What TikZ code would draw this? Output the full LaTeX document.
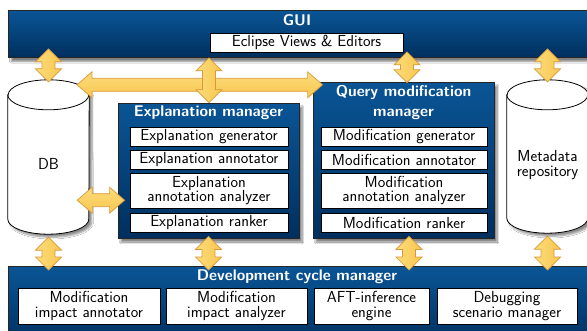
\documentclass[tikz,border=0pt]{standalone}
\usepackage{fontspec}
\usetikzlibrary{calc,shadows,shadows.blur}
\definecolor{bluetop}{HTML}{0A5596}
\definecolor{bluebot}{HTML}{002F5E}
\definecolor{arrfill}{HTML}{F8C650}
\definecolor{arrlight}{HTML}{FCDC7A}
\definecolor{arrdraw}{HTML}{D9993A}
\tikzset{
  bluebox/.style={draw=black!85, line width=0.8pt, top color=bluetop, bottom color=bluebot, inner sep=0pt,
    blur shadow={shadow xshift=3pt, shadow yshift=-4pt, shadow blur steps=8, shadow opacity=50}},
  wbox/.style={draw=black, line width=0.8pt, fill=white, inner sep=0pt, align=center},
  titletext/.style={text=white, font=\sffamily\bfseries\fontsize{15.5}{20}\selectfont, align=center, inner sep=0pt},
  plaintext/.style={align=center, inner sep=0pt},
  cylfill/.style={draw=black, line width=0.8pt, fill=white,
    blur shadow={shadow xshift=3pt, shadow yshift=-3pt, shadow blur steps=8, shadow opacity=45}},
  cylline/.style={draw=black, line width=0.8pt},
  fatarrow/.style={draw=arrdraw, line width=0.7pt, left color=arrlight, right color=arrfill, line join=miter},
  fatarrowh/.style={draw=arrdraw, line width=0.7pt, top color=arrlight, bottom color=arrfill, line join=miter}
}
\newcommand{\varr}[2]{\path[fatarrow] let \p1=(#1), \p2=(#2) in
  (\x1,\y1) -- (\x1+13pt,\y1-13pt) -- (\x1+6.5pt,\y1-13pt) -- (\x1+6.5pt,\y2+13pt) -- (\x1+13pt,\y2+13pt) --
  (\x1,\y2) -- (\x1-13pt,\y2+13pt) -- (\x1-6.5pt,\y2+13pt) -- (\x1-6.5pt,\y1-13pt) -- (\x1-13pt,\y1-13pt) -- cycle;}
\newcommand{\harr}[2]{\path[fatarrowh] let \p1=(#1), \p2=(#2) in
  (\x1,\y1) -- (\x1+15pt,\y1+13pt) -- (\x1+15pt,\y1+6.5pt) -- (\x2-15pt,\y1+6.5pt) -- (\x2-15pt,\y1+13pt) --
  (\x2,\y1) -- (\x2-15pt,\y1-13pt) -- (\x2-15pt,\y1-6.5pt) -- (\x1+15pt,\y1-6.5pt) -- (\x1+15pt,\y1-13pt) -- cycle;}
\newcommand{\cylshape}[1]{%
  \path[cylfill] ([yshift=-15pt]#1.north west) -- ([yshift=15pt]#1.south west)
    arc[start angle=180, end angle=360, x radius=40.5pt, y radius=15pt]
    -- ([yshift=-15pt]#1.north east)
    arc[start angle=0, end angle=180, x radius=40.5pt, y radius=15pt] -- cycle;
  \draw[cylline] ([yshift=-15pt]#1.north west) arc[start angle=180, end angle=360, x radius=40.5pt, y radius=15pt];}
\begin{document}
\begin{tikzpicture}[x=1pt, y=-1pt, font=\sffamily\fontsize{16}{14.5}\selectfont]
\useasboundingbox (0,0) rectangle (587,330);
\fill[white] (0,0) rectangle (587,330);

% GUI
\node[bluebox, minimum width=600pt, minimum height=47pt, anchor=north west] (gui) at (8,10) {};
\node[titletext] (guititle) at (297,20) {GUI};
\node[wbox, minimum width=193pt, minimum height=19pt] (eclipse) at (306.5,42.5) {Eclipse Views \& Editors};

% Cylinders
\node[minimum width=81pt, minimum height=154pt, inner sep=0pt] (db) at (48.5,157) {};
\cylshape{db}
\node[plaintext] (dblabel) at (48.5,164) {DB};
\node[minimum width=81pt, minimum height=153pt, inner sep=0pt] (meta) at (547.5,156.5) {};
\cylshape{meta}
\node[plaintext] (metalabel) at (547.5,165) {Metadata\\repository};

% Explanation manager
\node[bluebox, minimum width=181pt, minimum height=135pt] (expl) at (208.5,170.5) {};
\node[titletext] (expltitle) at (208.5,113) {Explanation manager};
\node[wbox, minimum width=158pt, minimum height=19pt] (eg) at (209,136.5) {Explanation generator};
\node[wbox, minimum width=158pt, minimum height=19pt] (ea) at (209,159.5) {Explanation annotator};
\node[wbox, minimum width=158pt, minimum height=35pt] (ez) at (209,190.5) {Explanation\\annotation analyzer};
\node[wbox, minimum width=158pt, minimum height=19pt] (er) at (209,222.5) {Explanation ranker};

% Query modification manager
\node[bluebox, minimum width=181pt, minimum height=156pt] (qmm) at (403.5,160) {};
\node[titletext] (qmmtitle) at (403.5,103) {Query modification\\manager};
\node[wbox, minimum width=166pt, minimum height=19pt] (mg) at (404,136.5) {Modification generator};
\node[wbox, minimum width=166pt, minimum height=19pt] (ma) at (404,159.5) {Modification annotator};
\node[wbox, minimum width=166pt, minimum height=35pt] (mz) at (404,190.5) {Modification\\annotation analyzer};
\node[wbox, minimum width=166pt, minimum height=19pt] (mr) at (404,222.5) {Modification ranker};

% Development cycle manager
\node[bluebox, minimum width=600pt, minimum height=80pt, anchor=north west] (dev) at (8,266) {};
\node[titletext] (devtitle) at (297,277) {Development cycle manager};
\node[wbox, minimum width=142pt, minimum height=36pt] (d1) at (89,306) {Modification\\impact annotator};
\node[wbox, minimum width=141pt, minimum height=36pt] (d2) at (236.5,306) {Modification\\impact analyzer};
\node[wbox, minimum width=115pt, minimum height=36pt] (d3) at (371.5,306) {AFT-inference\\engine};
\node[wbox, minimum width=140pt, minimum height=36pt] (d4) at (507,306) {Debugging\\scenario manager};

% Arrows
\harr{$(db.north)+(28.5,5)$}{$(qmm.north west)+(10,3)$}
\harr{$(db.south east)+(-12,-34)$}{$(expl.south west)+(7,-38)$}
\varr{$(gui.south -| db.north)+(0,-9)$}{$(db.north)+(0,2)$}
\varr{$(gui.south -| expl.north)+(0.5,0)$}{$(expl.north)+(0.5,0)$}
\varr{$(gui.south -| qmm.north)+(3.5,-6)$}{$(qmm.north)+(3.5,1)$}
\varr{$(gui.south -| meta.north)+(0,-9)$}{$(meta.north)+(0,2)$}
\varr{$(db.south)+(0,3)$}{$(dev.north -| db.south)+(0,4)$}
\varr{$(expl.south)+(0,-2)$}{$(dev.north -| expl.south)+(0,4)$}
\varr{$(qmm.south)+(5.5,-2)$}{$(dev.north -| qmm.south)+(5.5,4)$}
\varr{$(meta.south)+(0,3)$}{$(dev.north -| meta.south)+(0,4)$}
\end{tikzpicture}
\end{document}
